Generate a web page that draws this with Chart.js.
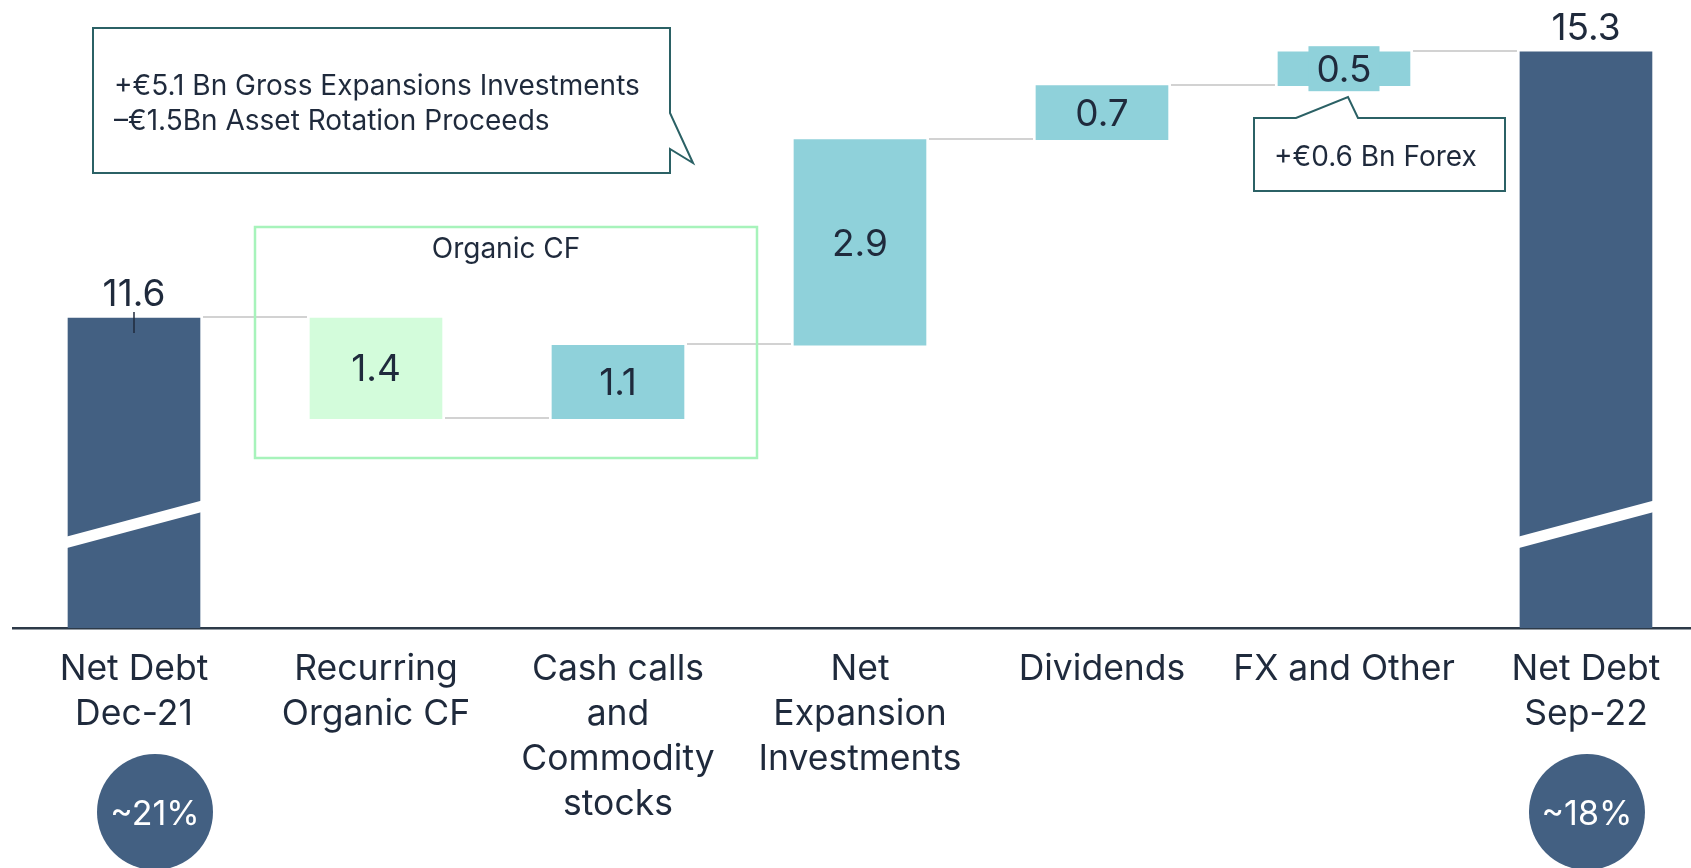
<!DOCTYPE html>
<html>
<head>
<meta charset="utf-8">
<script src="https://cdn.jsdelivr.net/npm/chart.js@4"></script>
<style>
  html, body { margin: 0; padding: 0; background: #fff; overflow: hidden; }
  #wrap { width: 1691px; height: 868px; }
</style>
</head>
<body>
<div id="wrap"><canvas id="chart" width="1691" height="868"></canvas></div>
<script>
// ---- data (EUR Bn) ----
const categories = [
  ['Net Debt', 'Dec-21'],
  ['Recurring', 'Organic CF'],
  ['Cash calls', 'and', 'Commodity', 'stocks'],
  ['Net', 'Expansion', 'Investments'],
  ['Dividends'],
  ['FX and Other'],
  ['Net Debt', 'Sep-22']
];
const AXIS_MIN = 7.29;    // axis is broken, totals start here
const AXIS_MAX = 16.02;
const barLow      = [AXIS_MIN, 10.2, 10.2, 11.22, 14.08, 14.83, AXIS_MIN];
const barHigh     = [11.6, 11.6, 11.22, 14.08, 14.83, 15.3, 15.3];
const barKinds    = ['total', 'down', 'up', 'up', 'up', 'up', 'total'];
const valueLabels = ['11.6', '1.4', '1.1', '2.9', '0.7', '0.5', '15.3'];
const ratioLabels = ['~21%', '', '', '', '', '', '~18%'];
const BREAK_AT = 8.73;

// ---- look ----
const C = {
  dark: '#436082', green: '#d3fcdb', teal: '#8fd1da', text: '#1f2a3c',
  axis: '#2d3a48', link: '#d2d2d2', box: '#a7f3bb', callout: '#2b6165'
};
const FONT = 'Inter, "DejaVu Sans", sans-serif';

function colorFor(kind) {
  if (kind === 'total') return C.dark;
  if (kind === 'down') return C.green;
  return C.teal;
}

// level where the flow continues to the next bar
function flowLevel(i) {
  return barKinds[i] === 'down' ? barLow[i] : barHigh[i];
}

// ---- decorations: callouts, connectors, breaks, labels ----
const waterfallPlugin = {
  id: 'waterfall',
  beforeDatasetsDraw(chart) {
    const ctx = chart.ctx;
    const y = chart.scales.y;
    const bars = chart.getDatasetMeta(0).data;
    ctx.save();

    // connectors
    ctx.strokeStyle = C.link;
    ctx.lineWidth = 2;
    for (let i = 0; i < bars.length - 1; i++) {
      const py = Math.round(y.getPixelForValue(flowLevel(i))) - 1;
      ctx.beginPath();
      ctx.moveTo(bars[i].x + bars[i].width / 2 + 3, py);
      ctx.lineTo(bars[i + 1].x - bars[i + 1].width / 2 - 3, py);
      ctx.stroke();
    }

    // organic CF frame
    ctx.strokeStyle = C.box;
    ctx.lineWidth = 2.5;
    ctx.strokeRect(255, 227, 502, 231);
    ctx.fillStyle = C.text;
    ctx.font = '28px ' + FONT;
    ctx.textAlign = 'center';
    ctx.textBaseline = 'alphabetic';
    ctx.fillText('Organic CF', 506, 258);

    // callout 1
    ctx.strokeStyle = C.callout;
    ctx.lineWidth = 2;
    ctx.beginPath();
    ctx.moveTo(93, 28);
    ctx.lineTo(670, 28);
    ctx.lineTo(670, 113);
    ctx.lineTo(693, 163);
    ctx.lineTo(670, 149);
    ctx.lineTo(670, 173);
    ctx.lineTo(93, 173);
    ctx.closePath();
    ctx.stroke();
    ctx.textAlign = 'left';
    ctx.fillText('+€5.1 Bn Gross Expansions Investments', 114, 95);
    ctx.fillText('–€1.5Bn Asset Rotation Proceeds', 114, 130);

    // callout 2
    ctx.beginPath();
    ctx.moveTo(1254, 118);
    ctx.lineTo(1296, 118);
    ctx.lineTo(1348, 97);
    ctx.lineTo(1358, 118);
    ctx.lineTo(1505, 118);
    ctx.lineTo(1505, 191);
    ctx.lineTo(1254, 191);
    ctx.closePath();
    ctx.stroke();
    ctx.fillText('+€0.6 Bn Forex', 1274, 166);

    ctx.restore();
  },
  afterDatasetsDraw(chart) {
    const ctx = chart.ctx;
    const y = chart.scales.y;
    const bars = chart.getDatasetMeta(0).data;
    ctx.save();

    bars.forEach((bar, i) => {
      const left = bar.x - bar.width / 2;
      const right = bar.x + bar.width / 2;
      const top = Math.min(bar.y, bar.base);
      const bottom = Math.max(bar.y, bar.base);

      if (barKinds[i] === 'total') {
        // axis break band
        const yc = y.getPixelForValue(BREAK_AT);
        const rise = bar.width * 0.135;
        ctx.fillStyle = '#ffffff';
        ctx.beginPath();
        ctx.moveTo(left - 1, yc + rise - 5.75);
        ctx.lineTo(right + 1, yc - rise - 5.75);
        ctx.lineTo(right + 1, yc - rise + 5.75);
        ctx.lineTo(left - 1, yc + rise + 5.75);
        ctx.closePath();
        ctx.fill();
      }

      ctx.font = '37px ' + FONT;
      ctx.textAlign = 'center';
      const label = valueLabels[i];
      if (barKinds[i] === 'total') {
        ctx.fillStyle = C.text;
        ctx.textBaseline = 'alphabetic';
        ctx.fillText(label, bar.x, top - 12);
      } else {
        const cy = (top + bottom) / 2;
        if (bottom - top < 40) {
          // label wider than the thin bar: give it a backing tab
          const w = ctx.measureText(label).width + 16;
          ctx.fillStyle = colorFor(barKinds[i]);
          ctx.fillRect(bar.x - w / 2, cy - 22.5, w, 45);
        }
        ctx.fillStyle = C.text;
        ctx.textBaseline = 'middle';
        ctx.fillText(label, bar.x, cy + 2);
      }
    });

    // small marker on first total
    const b0 = bars[0];
    ctx.strokeStyle = C.text;
    ctx.lineWidth = 1.5;
    ctx.beginPath();
    ctx.moveTo(b0.x, b0.y - 6);
    ctx.lineTo(b0.x, b0.y + 15);
    ctx.stroke();

    // gearing circles
    const ratioDx = [21, 0, 0, 0, 0, 0, 1];
    ratioLabels.forEach((txt, i) => {
      if (!txt) return;
      const cx = bars[i].x + ratioDx[i];
      ctx.fillStyle = C.dark;
      ctx.beginPath();
      ctx.arc(cx, 812, 58, 0, Math.PI * 2);
      ctx.fill();
      ctx.fillStyle = '#ffffff';
      ctx.font = '34px ' + FONT;
      ctx.textAlign = 'center';
      ctx.textBaseline = 'middle';
      ctx.fillText(txt, cx, 815);
    });

    ctx.restore();
  }
};

new Chart(document.getElementById('chart'), {
  type: 'bar',
  data: {
    datasets: [{
      data: categories.map((_, i) => ({ x: i, y: [barLow[i], barHigh[i]] })),
      backgroundColor: barKinds.map(colorFor),
      borderWidth: 0,
      barThickness: 132,
      grouped: false
    }]
  },
  options: {
    responsive: false,
    animation: false,
    layout: { padding: { left: 13, right: 0, top: 0, bottom: 0 } },
    plugins: { legend: { display: false }, tooltip: { enabled: false } },
    scales: {
      x: {
        type: 'linear',
        offset: false,
        min: -0.5,
        max: 6.434,
        grid: { display: false, drawTicks: false, offset: false },
        border: { display: true, color: C.axis, width: 2.5 },
        afterBuildTicks: s => { s.ticks = categories.map((_, i) => ({ value: i })); },
        afterFit: s => { s.height = 240; },
        ticks: {
          autoSkip: false, maxRotation: 0, minRotation: 0, padding: 19,
          color: C.text,
          font: { family: FONT, size: 35.5, lineHeight: 1.27 },
          callback: v => categories[v]
        }
      },
      y: { display: false, min: AXIS_MIN, max: AXIS_MAX }
    }
  },
  plugins: [waterfallPlugin]
});
</script>
</body>
</html>
